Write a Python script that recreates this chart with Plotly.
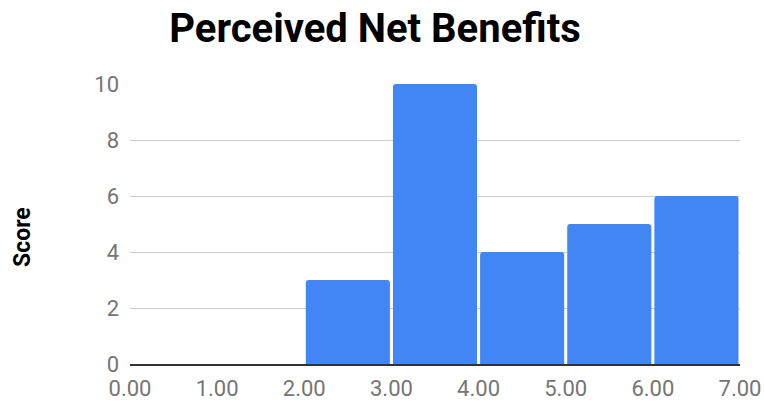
import plotly.graph_objects as go

# Histogram bins (lower edge, upper edge) and count of scores in each bin
bin_starts = [0, 1, 2, 3, 4, 5, 6]
bin_ends = [1, 2, 3, 4, 5, 6, 7]
counts = [0, 0, 3, 10, 4, 5, 6]
x_ticks = [0, 1, 2, 3, 4, 5, 6, 7]
y_ticks = [0, 2, 4, 6, 8, 10]

centers = [(a + b) / 2 for a, b in zip(bin_starts, bin_ends)]
widths = [(b - a) * 0.965 for a, b in zip(bin_starts, bin_ends)]

W, H = 764, 405
ML, MR, MT, MB = 130, 24, 84, 41

fig = go.Figure(
    go.Bar(
        x=centers,
        y=counts,
        width=widths,
        marker=dict(color="#4285F4", line=dict(width=0), cornerradius=3),
        hovertemplate="%{y}<extra></extra>",
    )
)

fig.update_layout(
    width=W,
    height=H,
    margin=dict(l=ML, r=MR, t=MT, b=MB, autoexpand=False),
    paper_bgcolor="white",
    plot_bgcolor="white",
    font=dict(family="Roboto", color="#757575"),
    showlegend=False,
    title=dict(
        text="<b>Perceived Net Benefits</b>",
        font=dict(family="Roboto", size=40, color="#000000"),
        x=375 / W,
        xanchor="center",
        xref="container",
        y=1 - 28 / H,
        yanchor="middle",
        yref="container",
    ),
    xaxis=dict(
        range=[0, 7],
        tickvals=x_ticks,
        tickformat=".2f",
        tickfont=dict(size=22, color="#757575"),
        showgrid=False,
        zeroline=False,
        showline=True,
        linecolor="#333333",
        linewidth=2,
        ticks="",
        ticklabelstandoff=4,
        automargin=False,
        fixedrange=True,
    ),
    yaxis=dict(
        range=[0, 10],
        tickvals=y_ticks,
        tickfont=dict(size=22, color="#757575"),
        showgrid=True,
        gridcolor="#CCCCCC",
        gridwidth=1,
        zeroline=False,
        showline=False,
        ticks="",
        ticklabelstandoff=10,
        automargin=False,
        fixedrange=True,
    ),
    annotations=[
        dict(
            text="<b>Score</b>",
            textangle=-90,
            x=(22 - ML) / (W - ML - MR),
            y=(H - MB - 237) / (H - MT - MB),
            xref="paper",
            yref="paper",
            xanchor="center",
            yanchor="middle",
            showarrow=False,
            font=dict(family="Roboto", size=23, color="#000000"),
        )
    ],
)

fig.write_html("out.html", config={"displayModeBar": False})
